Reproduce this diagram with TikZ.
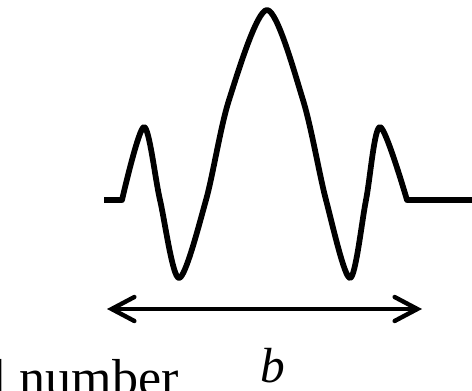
\documentclass[tikz,border=0pt]{standalone}
\usepackage{fontspec}
\setmainfont{Liberation Serif}
\usetikzlibrary{arrows.meta}

\begin{document}
\begin{tikzpicture}[x=0.75pt,y=-0.75pt]
\clip (0,0) rectangle (472,390);

% pulse
\draw[line width=4.3pt, line join=round] (104,200) -- plot[smooth] coordinates {(122,200) (144,127) (160,200) (179,278) (206,200) (229,100) (267,10) (303,100) (326,200) (350,278) (366,200) (380,127) (407,200)} -- (472,200);

% width b
\coordinate (wl) at (107,309);
\coordinate (wr) at (422,309);
\draw[line width=3.3pt, {Straight Barb[length=17pt,width=18pt,line cap=round]}-{Straight Barb[length=17pt,width=18pt,line cap=round]}] (wl) -- (wr);
\node[font=\fontsize{37}{40}\selectfont\itshape, inner sep=0pt] (blabel) at (273,366) {b};

% caption (cut off)
\node[font=\fontsize{39}{44}\selectfont, anchor=base west, inner sep=0pt] (caption) at (-8,395) {l number};
\end{tikzpicture}
\end{document}
